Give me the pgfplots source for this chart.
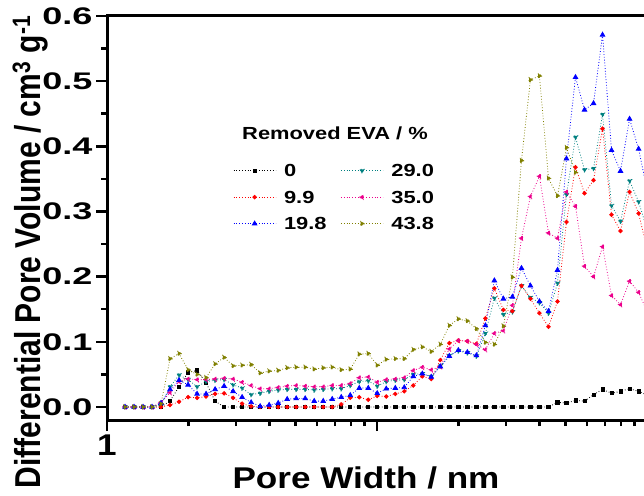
\documentclass[border=0pt]{standalone}
\usepackage{pgfplots}
\pgfplotsset{compat=1.18}
\usepackage{fontspec}
\setmainfont{Liberation Sans}
\newfontfamily\tickfont[FakeStretch=1.5]{Liberation Sans}
\newfontfamily\legfont[FakeStretch=1.25]{Liberation Sans}
\newfontfamily\labfont[FakeStretch=1.17]{Liberation Sans}
\definecolor{cteal}{RGB}{0,128,128}
\definecolor{colive}{RGB}{128,128,0}
\begin{document}
\begin{tikzpicture}
\begin{axis}[
 at={(0pt,0pt)}, anchor=south west,
 scale only axis, width=540pt, height=404pt,
 xmode=log, xmin=1, xmax=100, ymin=-0.02, ymax=0.6,
 axis line style={line width=3pt},
 tick align=outside, xtick pos=bottom, ytick pos=left,
 major tick length=11pt, minor tick length=6pt,
 tick style={black, line width=2.5pt},
 xtick={1,10,100}, xticklabels={1,,},
 minor xtick={2,3,4,5,6,7,8,9,20,30,40,50,60,70,80,90},
 ytick={0,0.1,0.2,0.3,0.4,0.5,0.6},
 minor ytick={0.05,0.15,0.25,0.35,0.45,0.55},
 yticklabels={0.0,0.1,0.2,0.3,0.4,0.5,0.6},
 yticklabel style={font=\tickfont\bfseries\fontsize{24}{24}\selectfont},
 xticklabel style={font=\labfont\bfseries\fontsize{30}{30}\selectfont},
 legend columns=2, legend cell align=left,
 legend image code/.code={\draw[mark repeat=2,mark phase=2,#1] plot coordinates {(0pt,0pt) (21pt,0pt) (42pt,0pt)};},
 legend style={at={(axis description cs:0.2278,0.643)}, anchor=north west, draw=none, fill=none,
   nodes={font=\legfont\bfseries\fontsize{17.5}{17.5}\selectfont, inner sep=2pt, text height=12.5pt, text depth=0pt},
   row sep=10pt, column sep=6pt,
   /tikz/every even column/.append style={column sep=12pt}},
 every axis plot/.append style={dotted, line width=0.8pt, mark options={solid}},
]
\addplot[black, mark=square*, mark size=1.6pt] table[row sep=\\]{x y\\
1.166 0\\ 1.259 0\\ 1.360 0\\ 1.468 0\\ 1.585 0\\ 1.712 0.009\\ 1.849 0.031\\ 1.997 0.053\\ 2.156 0.056\\ 2.328 0.037\\
2.514 0.009\\ 2.715 0\\ 2.932 0\\ 3.166 0\\ 3.419 0\\ 3.692 0\\ 3.987 0\\ 4.305 0\\ 4.649 0\\ 5.020 0\\
5.421 0\\ 5.854 0\\ 6.322 0\\ 6.826 0\\ 7.372 0\\ 7.961 0\\ 8.597 0\\ 9.283 0\\ 10.02 0\\ 10.82 0\\
11.69 0\\ 12.62 0\\ 13.63 0\\ 14.72 0\\ 15.89 0\\ 17.16 0\\ 18.53 0\\ 20.01 0\\ 21.61 0\\ 23.34 0\\
25.20 0\\ 27.21 0\\ 29.39 0\\ 31.74 0\\ 34.28 0\\ 37.01 0\\ 39.97 0\\ 43.16 0\\ 46.61 0.007\\ 50.33 0.006\\
54.35 0.010\\ 58.69 0.009\\ 63.38 0.019\\ 68.44 0.027\\ 73.91 0.021\\ 79.80 0.024\\ 86.18 0.028\\ 93.07 0.024\\ 100.5 0.018\\
};
\addlegendentry{0}
\addplot[cteal, mark=triangle*, mark size=2.6pt, mark options={rotate=180}] table[row sep=\\]{x y\\
1.166 0\\ 1.259 0\\ 1.360 0\\ 1.468 0\\ 1.585 0.003\\ 1.712 0.031\\ 1.849 0.049\\ 1.997 0.042\\ 2.156 0.031\\ 2.328 0.039\\
2.514 0.041\\ 2.715 0.042\\ 2.932 0.034\\ 3.166 0.029\\ 3.419 0.019\\ 3.692 0.021\\ 3.987 0.024\\ 4.305 0.026\\ 4.649 0.027\\ 5.020 0.027\\
5.421 0.027\\ 5.854 0.026\\ 6.322 0.027\\ 6.826 0.028\\ 7.372 0.028\\ 7.961 0.033\\ 8.597 0.039\\ 9.283 0.040\\ 10.02 0.032\\ 10.82 0.039\\
11.69 0.041\\ 12.62 0.042\\ 13.63 0.050\\ 14.72 0.051\\ 15.89 0.047\\ 17.16 0.063\\ 18.53 0.079\\ 20.01 0.086\\ 21.61 0.083\\ 23.34 0.078\\
25.20 0.113\\ 27.21 0.167\\ 29.39 0.142\\ 31.74 0.146\\ 34.28 0.186\\ 37.01 0.168\\ 39.97 0.160\\ 43.16 0.144\\ 46.61 0.190\\ 50.33 0.326\\
54.35 0.414\\ 58.69 0.364\\ 63.38 0.366\\ 68.44 0.449\\ 73.91 0.309\\ 79.80 0.285\\ 86.18 0.347\\ 93.07 0.315\\ 100.5 0.27\\
};
\addlegendentry{29.0}
\addplot[red, mark=*, mark size=1.8pt] table[row sep=\\]{x y\\
1.166 0\\ 1.259 0\\ 1.360 0\\ 1.468 0\\ 1.585 0\\ 1.712 0.003\\ 1.849 0.008\\ 1.997 0.015\\ 2.156 0.014\\ 2.328 0.016\\
2.514 0.020\\ 2.715 0.021\\ 2.932 0.014\\ 3.166 0.005\\ 3.419 0.001\\ 3.692 0\\ 3.987 0\\ 4.305 0\\ 4.649 0\\ 5.020 0\\
5.421 0\\ 5.854 0\\ 6.322 0\\ 6.826 0\\ 7.372 0.004\\ 7.961 0.014\\ 8.597 0.015\\ 9.283 0.011\\ 10.02 0.017\\ 10.82 0.016\\
11.69 0.020\\ 12.62 0.024\\ 13.63 0.033\\ 14.72 0.047\\ 15.89 0.043\\ 17.16 0.072\\ 18.53 0.098\\ 20.01 0.102\\ 21.61 0.101\\ 23.34 0.097\\
25.20 0.136\\ 27.21 0.182\\ 29.39 0.149\\ 31.74 0.147\\ 34.28 0.186\\ 37.01 0.166\\ 39.97 0.144\\ 43.16 0.123\\ 46.61 0.162\\ 50.33 0.284\\
54.35 0.368\\ 58.69 0.328\\ 63.38 0.348\\ 68.44 0.427\\ 73.91 0.295\\ 79.80 0.270\\ 86.18 0.330\\ 93.07 0.297\\ 100.5 0.24\\
};
\addlegendentry{9.9}
\addplot[magenta, mark=triangle*, mark size=2.6pt, mark options={rotate=90}] table[row sep=\\]{x y\\
1.166 0\\ 1.259 0\\ 1.360 0\\ 1.468 0\\ 1.585 0.007\\ 1.712 0.022\\ 1.849 0.039\\ 1.997 0.043\\ 2.156 0.042\\ 2.328 0.042\\
2.514 0.043\\ 2.715 0.044\\ 2.932 0.043\\ 3.166 0.038\\ 3.419 0.033\\ 3.692 0.028\\ 3.987 0.028\\ 4.305 0.030\\ 4.649 0.032\\ 5.020 0.033\\
5.421 0.032\\ 5.854 0.031\\ 6.322 0.031\\ 6.826 0.033\\ 7.372 0.033\\ 7.961 0.036\\ 8.597 0.045\\ 9.283 0.046\\ 10.02 0.038\\ 10.82 0.042\\
11.69 0.043\\ 12.62 0.045\\ 13.63 0.056\\ 14.72 0.061\\ 15.89 0.057\\ 17.16 0.062\\ 18.53 0.089\\ 20.01 0.102\\ 21.61 0.101\\ 23.34 0.096\\
25.20 0.088\\ 27.21 0.113\\ 29.39 0.117\\ 31.74 0.156\\ 34.28 0.259\\ 37.01 0.323\\ 39.97 0.354\\ 43.16 0.267\\ 46.61 0.259\\ 50.33 0.330\\
54.35 0.308\\ 58.69 0.216\\ 63.38 0.200\\ 68.44 0.246\\ 73.91 0.171\\ 79.80 0.157\\ 86.18 0.193\\ 93.07 0.176\\ 100.5 0.145\\
};
\addlegendentry{35.0}
\addplot[blue, mark=triangle*, mark size=2.6pt] table[row sep=\\]{x y\\
1.166 0\\ 1.259 0\\ 1.360 0\\ 1.468 0\\ 1.585 0.006\\ 1.712 0.027\\ 1.849 0.041\\ 1.997 0.034\\ 2.156 0.020\\ 2.328 0.020\\
2.514 0.027\\ 2.715 0.032\\ 2.932 0.024\\ 3.166 0.015\\ 3.419 0.007\\ 3.692 0.001\\ 3.987 0.003\\ 4.305 0.006\\ 4.649 0.012\\ 5.020 0.013\\
5.421 0.013\\ 5.854 0.009\\ 6.322 0.009\\ 6.826 0.012\\ 7.372 0.015\\ 7.961 0.018\\ 8.597 0.029\\ 9.283 0.029\\ 10.02 0.021\\ 10.82 0.028\\
11.69 0.029\\ 12.62 0.030\\ 13.63 0.047\\ 14.72 0.051\\ 15.89 0.046\\ 17.16 0.062\\ 18.53 0.078\\ 20.01 0.087\\ 21.61 0.084\\ 23.34 0.079\\
25.20 0.125\\ 27.21 0.194\\ 29.39 0.166\\ 31.74 0.169\\ 34.28 0.213\\ 37.01 0.186\\ 39.97 0.162\\ 43.16 0.147\\ 46.61 0.210\\ 50.33 0.381\\
54.35 0.506\\ 58.69 0.456\\ 63.38 0.466\\ 68.44 0.571\\ 73.91 0.394\\ 79.80 0.362\\ 86.18 0.442\\ 93.07 0.396\\ 100.5 0.33\\
};
\addlegendentry{19.8}
\addplot[colive, mark=triangle*, mark size=2.6pt, mark options={rotate=-90}] table[row sep=\\]{x y\\
1.166 0\\ 1.259 0\\ 1.360 0\\ 1.468 0\\ 1.585 0.005\\ 1.712 0.074\\ 1.849 0.082\\ 1.997 0.057\\ 2.156 0.050\\ 2.328 0.045\\
2.514 0.066\\ 2.715 0.076\\ 2.932 0.063\\ 3.166 0.064\\ 3.419 0.065\\ 3.692 0.052\\ 3.987 0.055\\ 4.305 0.056\\ 4.649 0.060\\ 5.020 0.061\\
5.421 0.061\\ 5.854 0.058\\ 6.322 0.060\\ 6.826 0.061\\ 7.372 0.057\\ 7.961 0.058\\ 8.597 0.081\\ 9.283 0.082\\ 10.02 0.064\\ 10.82 0.073\\
11.69 0.074\\ 12.62 0.074\\ 13.63 0.088\\ 14.72 0.092\\ 15.89 0.085\\ 17.16 0.096\\ 18.53 0.125\\ 20.01 0.135\\ 21.61 0.132\\ 23.34 0.120\\
25.20 0.099\\ 27.21 0.096\\ 29.39 0.124\\ 31.74 0.199\\ 34.28 0.378\\ 37.01 0.502\\ 39.97 0.508\\ 43.16 0.351\\ 46.61 0.324\\ 50.33 0.398\\
54.35 0.360\\
};
\addlegendentry{43.8}
\end{axis}
\node[anchor=base, font=\legfont\bfseries\fontsize{17.5}{17.5}\selectfont] at (228pt,280pt) {Removed EVA / \%};
\node[anchor=base, rotate=90, font=\bfseries\fontsize{30}{30}\selectfont] at (-66pt,168pt) {\scalebox{1}[1.2]{Differential Pore Volume / cm\textsuperscript{3} g\textsuperscript{-1}}};
\node[anchor=base, font=\labfont\bfseries\fontsize{30}{30}\selectfont] at (259pt,-68pt) {Pore Width / nm};
\pgfresetboundingbox
\path[use as bounding box] (-107pt,-75pt) rectangle (537pt,420pt);
\end{tikzpicture}
\end{document}
